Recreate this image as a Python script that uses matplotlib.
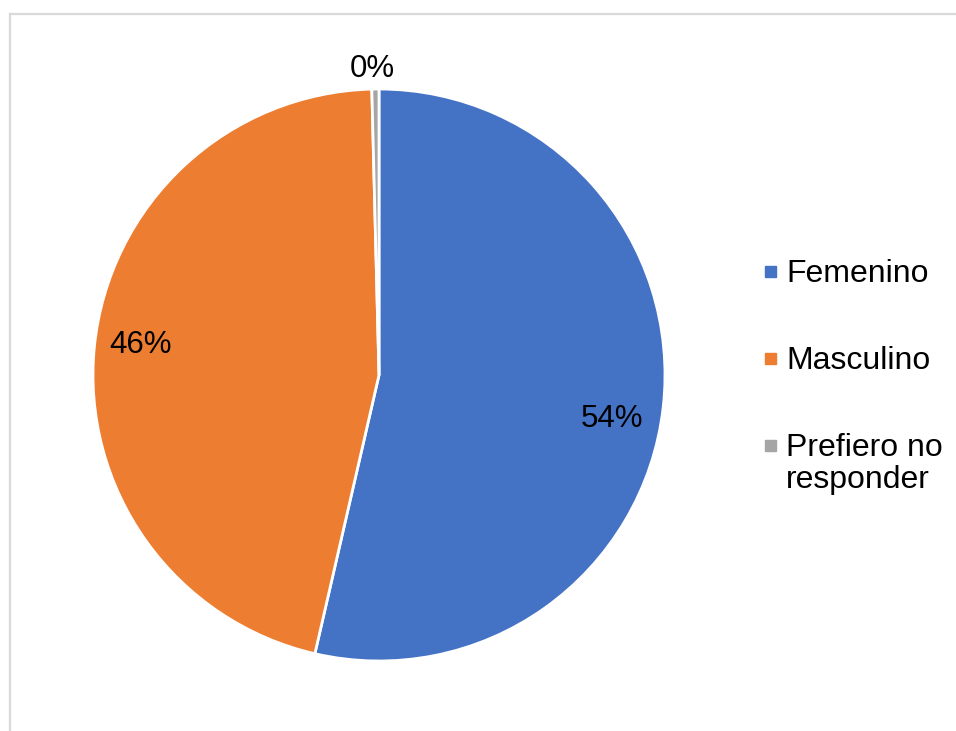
import matplotlib.pyplot as plt
import numpy as np
from matplotlib.lines import Line2D
from matplotlib.patches import Rectangle

plt.rcParams['font.family'] = ['Liberation Sans', 'DejaVu Sans']

categories = ["Femenino", "Masculino", "Prefiero no\nresponder"]
values = [53.6, 46.0, 0.4]
colors = ["#4472C4", "#ED7D31", "#A5A5A5"]

W, H = 956, 731
fig = plt.figure(figsize=(W / 100, H / 100), dpi=100)

# chart frame (only top and left edges fall inside the image)
fig.add_artist(Line2D([9.5 / W, 1.0], [1 - 14 / H, 1 - 14 / H], color="#d9d9d9", lw=1.6))
fig.add_artist(Line2D([9.5 / W, 9.5 / W], [0.0, 1 - 14 / H], color="#d9d9d9", lw=1.6))

# pie area: centre (379, 375), radius 286 px
cx, cy, r = 379, 375, 286
ax = fig.add_axes([(cx - r) / W, 1 - (cy + r) / H, 2 * r / W, 2 * r / H])
wedges, texts, autotexts = ax.pie(
    values, colors=colors, startangle=90, counterclock=False,
    autopct=lambda p: f"{p:.0f}%", pctdistance=0.83,
    wedgeprops=dict(edgecolor="white", linewidth=2.0),
    textprops=dict(fontsize=22.5, color="black"))
ax.set_xlim(-1, 1)
ax.set_ylim(-1, 1)
ax.set_aspect("equal")
ax.axis("off")

# nudge the big slice label a little further down its slice
autotexts[0].set_position((0.815, -0.155))
autotexts[1].set_position((-0.835, 0.105))

# the tiny slice gets its label outside the pie
w = wedges[2]
mid = np.deg2rad((w.theta1 + w.theta2) / 2)
autotexts[2].set_position((1.07 * np.cos(mid) - 0.01, 1.07 * np.sin(mid)))

# legend drawn by hand, one text per line so the marker sits on the first line
baselines = [282, 369, 456]
line_gap = 32
for label, color, yb in zip(categories, colors, baselines):
    fig.add_artist(Rectangle((765 / W, 1 - (yb - 5) / H), 11 / W, 11 / H,
                             color=color, transform=fig.transFigure))
    for k, line in enumerate(label.split("\n")):
        fig.text(786 / W, 1 - (yb + k * line_gap) / H, line, fontsize=23,
                 va="baseline", ha="left")

fig.savefig("out.png", dpi=100)
